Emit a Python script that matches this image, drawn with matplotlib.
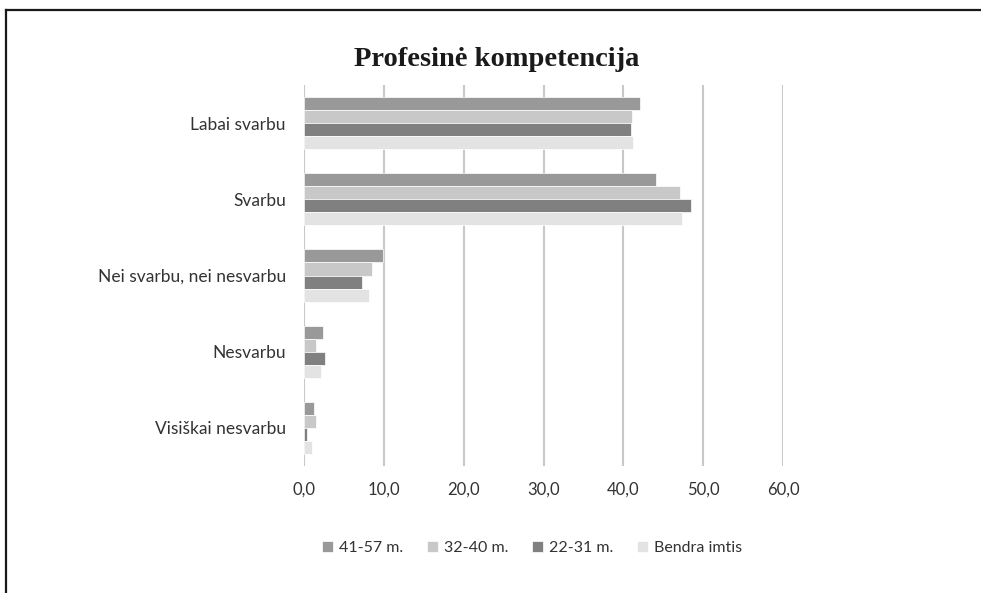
import numpy as np
import matplotlib
matplotlib.use("Agg")
import matplotlib.pyplot as plt
from matplotlib.lines import Line2D

categories = ["Labai svarbu", "Svarbu", "Nei svarbu, nei nesvarbu",
              "Nesvarbu", "Visiškai nesvarbu"]
series_names = ["41-57 m.", "32-40 m.", "22-31 m.", "Bendra imtis"]
age_41_57 = [42.1, 44.1, 9.9, 2.4, 1.2]
age_32_40 = [41.1, 47.1, 8.5, 1.5, 1.5]
age_22_31 = [41.0, 48.5, 7.3, 2.6, 0.4]
total = [41.2, 47.4, 8.2, 2.1, 1.0]
colors = ["#999999", "#c8c8c8", "#808080", "#e3e3e3"]
xticks = [0, 10, 20, 30, 40, 50, 60]

plt.rcParams["font.family"] = ["Lato", "DejaVu Sans"]

fig = plt.figure(figsize=(9.81, 5.93), dpi=100)
ax = fig.add_axes([304 / 981, 1 - 466 / 593, (783 - 304) / 981, (466 - 85) / 593])

series = [age_41_57, age_32_40, age_22_31, total]
y = np.arange(len(categories))
bar_h = 0.171
for i, (vals, col, name) in enumerate(zip(series, colors, series_names)):
    offset = (i - 1.5) * bar_h
    ax.barh(y + offset, vals, height=bar_h, color=col, label=name,
            edgecolor="white", linewidth=0.5, zorder=2)

ax.set_xlim(0, 60)
ax.set_ylim(len(categories) - 0.5, -0.5)
ax.set_yticks(y)
ax.set_yticklabels(categories, fontsize=12.5, color="#333333")
ax.set_xticks(xticks)
ax.set_xticklabels([f"{t:.1f}".replace(".", ",") for t in xticks],
                   fontsize=12, color="#333333")
ax.tick_params(axis="y", length=0, pad=13)
ax.tick_params(axis="x", length=0, pad=11)
ax.xaxis.grid(True, color="#c8c8c8", linewidth=1.5, zorder=0)
ax.set_axisbelow(True)
for s in ax.spines.values():
    s.set_visible(False)

fig.text(497 / 981, 1 - 60 / 593, "Profesinė kompetencija", ha="center", va="center",
         fontsize=20.5, fontweight="bold", family=["Liberation Serif", "DejaVu Serif"],
         color="#1a1a1a")

fig.legend(loc="center", bbox_to_anchor=(532 / 981, 1 - 548 / 593), ncol=4,
           frameon=False, fontsize=11.5, handlelength=0.7, handleheight=0.7,
           handletextpad=0.4, columnspacing=1.45, labelcolor="#333333")

# frame lines on the top and left edges
fig.add_artist(Line2D([6 / 981, 1], [1 - 10 / 593, 1 - 10 / 593],
                      transform=fig.transFigure, color="#1a1a1a", linewidth=1.6))
fig.add_artist(Line2D([6 / 981, 6 / 981], [0, 1 - 10 / 593],
                      transform=fig.transFigure, color="#1a1a1a", linewidth=1.6))

fig.savefig("out.png", dpi=100)
